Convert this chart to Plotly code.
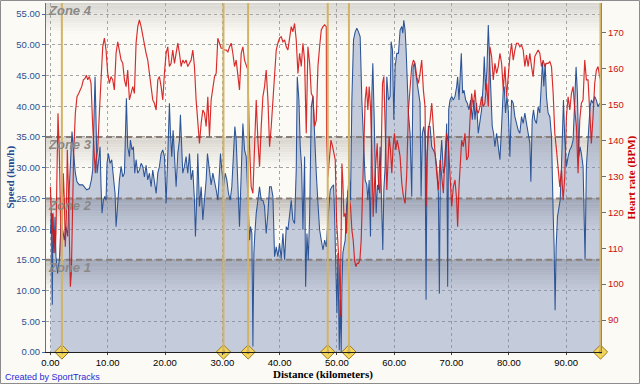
import plotly.graph_objects as go

# ---------------- data ----------------
SPEED_KM = [0.0, 0.16, 0.33, 0.45, 0.62, 0.80, 0.97, 1.26, 1.56, 1.85, 2.14, 2.43, 2.72, 3.01, 3.30, 3.59, 3.77, 4.00,
            4.35, 4.64, 5.05, 5.63, 5.92, 6.33, 6.80, 7.15, 7.38, 7.60, 7.79, 7.96, 8.14, 8.43, 8.66, 8.84, 9.01, 9.24,
            9.48, 9.71, 9.88, 10.12, 10.41, 10.70, 10.99, 11.28, 11.46, 11.75, 12.04, 12.34, 12.63, 12.92, 13.09, 13.26,
            13.49, 13.79, 13.96, 14.25, 14.48, 14.72, 14.95, 15.24, 15.53, 15.83, 16.12, 16.41, 16.70, 16.99, 17.28,
            17.57, 17.86, 18.15, 18.45, 18.74, 19.03, 19.32, 19.61, 19.90, 20.19, 20.48, 20.77, 20.95, 21.18, 21.41,
            21.65, 21.94, 22.23, 22.52, 22.69, 22.93, 23.10, 23.39, 23.68, 23.97, 24.27, 24.56, 24.85, 25.14, 25.31,
            25.55, 25.72, 26.01, 26.31, 26.60, 26.89, 27.18, 27.41, 27.65, 27.88, 28.05, 28.35, 28.64, 28.93, 29.22,
            29.45, 29.68, 29.92, 30.21, 30.50, 30.79, 31.08, 31.37, 31.66, 31.96, 32.19, 32.42, 32.71, 33.00, 33.30,
            33.59, 33.88, 34.17, 34.46, 34.75, 34.93, 35.16, 35.34, 35.51, 35.68, 35.92, 36.21, 36.50, 36.79, 37.08,
            37.37, 37.66, 37.96, 38.25, 38.54, 38.83, 39.12, 39.41, 39.70, 39.99, 40.28, 40.58, 40.87, 41.16, 41.45,
            41.74, 42.03, 42.32, 42.61, 42.90, 43.08, 43.37, 43.60, 43.84, 44.07, 44.36, 44.54, 44.77, 45.00, 45.24,
            45.53, 45.82, 46.11, 46.40, 46.69, 46.98, 47.27, 47.57, 47.86, 48.15,
            48.43, 48.84, 49.13, 49.42, 49.59, 49.83, 50.00, 50.17, 50.41, 50.58, 50.75, 50.87, 51.04, 51.22, 51.45,
            51.68, 51.92, 52.15, 52.38, 52.61, 52.90, 53.19, 53.48, 53.77, 54.06, 54.35, 54.64, 54.93, 55.22, 55.40,
            55.63, 55.86, 56.10, 56.27, 56.50, 56.68, 56.85, 57.08, 57.26, 57.55, 57.84, 58.01, 58.19, 58.42, 58.71,
            59.00, 59.29, 59.46, 59.70, 59.93, 60.16, 60.45, 60.74, 61.03, 61.32, 61.50, 61.67, 61.90, 62.08, 62.25,
            62.48, 62.77, 63.06, 63.29, 63.53, 63.76, 63.99, 64.22, 64.51, 64.69, 64.92, 65.15, 65.38, 65.56, 65.73,
            65.97, 66.26, 66.55, 66.84, 67.13, 67.42, 67.71, 67.88, 68.06, 68.29, 68.58, 68.87, 69.16, 69.33, 69.51,
            69.74, 70.03, 70.32, 70.61, 70.90, 71.07, 71.31, 71.48, 71.71, 71.94, 72.18, 72.47, 72.76, 73.05, 73.34,
            73.63, 73.92, 74.09, 74.38, 74.67, 74.96, 75.25, 75.54, 75.72, 75.95, 76.18, 76.42, 76.65, 76.88, 77.11,
            77.34, 77.58, 77.87, 78.16, 78.45, 78.74, 79.03, 79.20, 79.43, 79.67, 79.90, 80.19, 80.48, 80.77, 81.06,
            81.35, 81.64, 81.93, 82.22, 82.51, 82.80, 83.09, 83.38, 83.67, 83.85, 84.08, 84.31, 84.54, 84.83, 85.12,
            85.41, 85.70, 85.88, 86.11, 86.34, 86.57, 86.86, 87.16, 87.45, 87.74, 87.91, 88.08, 88.26, 88.49, 88.72,
            88.96, 89.19, 89.36, 89.54, 89.77, 90.06, 90.35, 90.64, 90.93, 91.22, 91.51, 91.74, 91.97, 92.21, 92.44,
            92.67, 92.96, 93.13, 93.31, 93.54, 93.72, 93.95, 94.18, 94.41, 94.70, 94.99, 95.28, 95.57, 95.86, 96.0]
SPEED_KMH = [19.3, 22.6, 7.7, 22.6, 16.1, 22.0, 15.5, 12.8, 15.0, 20.9, 19.9, 18.2, 20.4, 18.8, 26.9, 34.5, 35.9, 32.9,
             29.1, 27.7, 27.2, 27.2, 26.9, 26.4, 26.6, 28.0, 29.6, 38.0, 44.8, 37.8, 29.1, 31.3, 33.4, 26.9, 22.6, 24.7,
             25.3, 24.7, 30.7, 32.3, 30.7, 31.3, 28.0, 25.8, 20.4, 25.3, 28.0, 30.2, 28.5, 29.1, 35.6, 41.3,
             33.4, 31.8, 34.5, 32.9, 33.4, 29.1, 31.3, 29.1, 29.6, 30.7, 30.2, 28.5, 30.4, 28.0, 29.1,
             26.9, 29.6, 28.0, 25.8, 29.1, 30.2, 32.3, 32.9, 31.8, 24.2, 31.8, 40.5, 35.6, 31.8, 36.1,
             30.7, 26.9, 32.3, 34.5, 38.6, 33.4, 29.1, 30.2, 31.8, 29.1, 32.3, 28.0, 29.6, 24.7, 18.8,
             25.3, 32.3, 23.7, 26.9, 21.5, 24.7, 28.0, 32.3, 30.2, 28.0, 27.2, 29.1, 28.0, 26.4, 24.7,
             29.1, 32.3, 29.6, 26.9, 29.1, 28.0, 25.8, 24.7, 26.9, 34.0, 36.7, 34.5, 26.9, 20.4, 29.1,
             37.2, 32.9, 31.8, 25.3, 18.2, 20.4, 19.3, 0.9, 16.1, 19.3, 22.6, 24.7, 26.9, 24.7, 24.7,
             23.7, 19.3, 22.6, 26.9, 26.9, 25.3, 15.5, 17.1, 15.5, 17.7, 15.2, 19.3, 15.0, 20.4, 19.9,
             22.6, 24.7, 21.5, 20.9, 29.6, 44.8, 41.0, 33.4, 30.2, 19.9, 31.8, 10.6, 19.3, 15.0, 22.0,
             39.9, 41.6, 34.5, 29.1, 24.2, 19.9, 18.2, 16.6, 18.2, 17.1,
             21.5, 26.4, 26.9, 27.2, 22.6, 11.2, 6.3, 16.1, 0.3, 8.5, 0.0, 10.6, 16.1, 17.1, 18.2,
             23.7, 25.8, 29.1, 24.7, 41.0, 50.8, 52.1, 52.7, 52.1, 51.3, 41.0, 34.5, 28.0, 27.2, 24.7,
             28.0, 18.8, 42.1, 47.0, 38.3, 28.5, 22.6, 27.2, 26.4, 33.4, 23.7, 16.6, 26.4, 30.2, 44.8,
             41.0, 41.6, 50.5, 49.2, 37.8, 46.4, 48.6, 48.6, 52.4, 53.0, 51.9, 54.0, 52.4, 49.2, 44.3,
             38.9, 35.6, 25.3, 46.4, 47.0, 45.4, 43.7, 42.6, 40.5, 25.3, 35.6, 36.7, 35.1, 8.5, 32.3,
             36.7, 36.7, 33.4, 32.9, 32.3, 30.2, 25.8, 9.5, 31.3, 34.5, 29.1, 30.2, 37.2, 10.6, 39.4,
             41.0, 41.6, 41.0, 41.6, 43.2, 44.8, 41.0, 43.7, 48.6, 42.1, 42.6, 41.0, 40.5, 39.4, 41.0,
             37.8, 41.0, 37.8, 40.5, 35.6, 37.2, 39.4, 43.7, 48.1, 42.6, 45.9, 53.2, 47.5, 41.0, 36.7,
             35.6, 33.4, 35.6, 32.9, 31.3, 36.7, 42.6, 43.2, 38.9, 41.6, 39.4, 31.8, 41.0, 40.5, 38.3,
             37.2, 36.1, 35.6, 38.3, 37.2, 38.9, 37.2, 35.6, 34.0, 27.7, 37.8, 39.4, 37.8, 37.2, 39.9,
             38.9, 43.7, 47.2, 43.2, 47.0, 41.6, 38.9, 38.3, 35.1, 22.6, 17.1, 6.8, 17.1, 22.0, 23.7,
             24.7, 30.2, 34.5, 41.0, 34.5, 30.2, 31.8, 32.9, 33.4, 34.5, 41.0, 46.4, 42.1, 31.8, 33.4,
             32.3, 30.2, 22.6, 15.0, 30.2, 33.4, 36.7, 39.9, 41.0, 40.5, 41.6, 41.0, 39.9, 40.5, 40.0]

HR_KM = [0.0, 0.10, 0.27, 0.39, 0.51, 0.68, 0.80, 0.97, 1.15, 1.32, 1.56, 1.73, 1.90, 2.08, 2.25, 2.43, 2.60, 2.78,
         2.95, 3.13, 3.30, 3.48, 3.65, 3.83, 4.06, 4.35, 4.64, 4.93, 5.22, 5.46, 5.75, 6.04, 6.27, 6.51, 6.80, 7.09,
         7.38, 7.67, 7.84, 7.96, 8.25, 8.54, 8.84, 9.13, 9.42, 9.71, 10.00, 10.29, 10.58, 10.87, 11.16, 11.46, 11.75,
         12.04, 12.34, 12.63, 12.92, 13.21, 13.49, 13.79, 14.08, 14.37, 14.66, 14.95, 15.24, 15.53, 15.83, 16.12,
         16.41, 16.70, 16.99, 17.28, 17.57, 17.86, 18.15, 18.45, 18.74, 19.03, 19.32, 19.61, 19.90, 20.19, 20.48,
         20.77, 21.06, 21.35, 21.65, 21.94, 22.23, 22.52, 22.81, 23.10, 23.39, 23.68, 23.97, 24.27, 24.56, 24.85,
         25.14, 25.43, 25.72, 26.01, 26.31, 26.60, 26.89, 27.18, 27.47, 27.76, 28.05, 28.35, 28.64, 28.93, 29.22,
         29.51, 29.80, 30.09, 30.39, 30.68, 30.97, 31.26, 31.55, 31.84, 32.13, 32.42, 32.71, 33.00, 33.30, 33.59,
         33.88, 34.17, 34.46, 34.75, 35.04, 35.34, 35.63, 35.92, 36.21, 36.50, 36.79, 37.08, 37.37, 37.66, 37.96,
         38.25, 38.54, 38.83, 39.12, 39.41, 39.70, 39.99, 40.28, 40.58, 40.87, 41.16, 41.45, 41.74, 42.03, 42.32,
         42.61, 42.90, 43.20, 43.49, 43.78, 44.07, 44.36, 44.65, 44.94, 45.24, 45.53, 45.82, 46.11, 46.40, 46.69,
         46.98, 47.27, 47.57, 47.86, 48.15,
         48.20, 48.43, 48.66, 48.96, 49.25, 49.48, 49.71, 49.94, 50.17, 50.41, 50.58, 50.75, 50.87, 51.04, 51.22,
         51.45, 51.68, 51.92, 52.15, 52.38, 52.61, 52.84, 53.08, 53.31, 53.54, 53.77, 54.01, 54.24, 54.47, 54.70,
         54.93, 55.17, 55.40, 55.63, 55.86, 56.10, 56.33, 56.56, 56.79, 57.03, 57.26, 57.49, 57.72, 57.96, 58.19,
         58.42, 58.71, 58.88, 59.11, 59.35, 59.58, 59.81, 60.04, 60.28, 60.51, 60.74, 61.03, 61.32, 61.61, 61.90,
         62.19, 62.48, 62.77, 63.06, 63.35, 63.64, 63.93, 64.22, 64.51, 64.80, 65.09, 65.38, 65.56, 65.73, 65.97,
         66.26, 66.55, 66.84, 67.13, 67.42, 67.71, 68.00, 68.29, 68.58, 68.87, 69.16, 69.45, 69.74, 70.03, 70.32,
         70.61, 70.90, 71.07, 71.31, 71.54, 71.77, 72.06, 72.35, 72.64, 72.93, 73.22, 73.51, 73.80, 74.09, 74.38,
         74.67, 74.96, 75.25, 75.54, 75.83, 76.12, 76.42, 76.71, 77.00, 77.29, 77.58, 77.87, 78.16, 78.45, 78.74,
         79.03, 79.32, 79.61, 79.90, 80.19, 80.48, 80.77, 81.06, 81.35, 81.64, 81.93, 82.22, 82.51, 82.80, 83.09,
         83.38, 83.67, 83.96, 84.25, 84.54, 84.83, 85.12, 85.41, 85.70, 85.99, 86.28, 86.57, 86.86, 87.16, 87.45,
         87.74, 88.03, 88.32, 88.61, 88.90, 89.19, 89.48, 89.77, 90.06, 90.35, 90.64, 90.93, 91.22, 91.51, 91.80,
         92.09, 92.38, 92.67, 92.96, 93.25, 93.54, 93.83, 94.12, 94.41, 94.70, 94.99, 95.28, 95.57, 95.86, 96.0]
HR_BPM = [127.1, 121.6, 114.1, 119.7, 111.4, 115.1, 108.6, 114.1, 127.1, 147.6, 136.4, 123.4, 107.6, 119.7, 130.9,
          123.4, 110.4, 118.8, 137.4, 127.1, 106.7, 99.3, 103.0, 118.8, 136.4, 147.6, 152.2, 153.1, 154.1, 155.0,
          156.9, 157.3, 158.2, 156.9, 157.8, 155.9, 143.9, 132.7, 130.9, 134.6, 137.4, 147.6, 156.9, 166.1, 168.5,
          165.2, 158.7, 155.9, 157.8, 156.9, 154.1, 164.3, 167.5, 164.3, 162.4, 161.5, 156.9, 155.0, 159.6, 151.3,
          153.1, 155.0, 153.1, 167.1, 171.7, 173.6, 171.7, 168.9, 166.1, 164.3, 162.4, 158.7, 155.0, 151.3, 150.4,
          148.5, 156.9, 157.8, 155.0, 151.3, 158.7, 164.3, 166.1, 160.6, 161.5, 165.2, 161.5, 164.3, 167.1, 164.3,
          160.6, 162.4, 161.5, 162.4, 160.6, 161.5, 162.4, 165.2, 160.6, 151.3, 144.8, 139.2, 144.8, 148.5, 147.6,
          143.9, 152.2, 141.1, 151.3, 155.0, 157.8, 158.7, 168.5, 167.1, 165.7, 165.7, 165.2, 165.2, 164.7, 166.1,
          167.1, 164.3, 160.6, 162.4, 158.7, 154.1, 164.3, 166.1, 162.4, 160.6, 159.6, 138.3, 127.1, 125.3, 142.0,
          151.3, 140.1, 132.7, 143.9, 152.2, 155.0, 159.6, 151.3, 138.3, 143.9, 151.3, 158.7, 165.2, 167.1, 168.5,
          168.9, 167.5, 168.0, 166.1, 165.2, 168.9, 171.7, 170.3, 172.6, 168.0, 158.7, 164.3, 160.6, 167.1, 162.4,
          142.0, 166.1, 161.5, 153.1, 152.2, 143.9, 145.7, 160.6, 166.1, 170.8, 171.7, 172.2, 171.7,
          141.1, 129.9, 134.6, 140.1, 138.3, 136.4, 134.6, 117.9, 112.3, 104.9, 90.9, 114.1, 133.6, 128.5, 118.8,
          119.7, 114.1, 126.2, 123.4, 121.6, 115.1, 112.3, 106.7, 104.9, 105.8, 105.8, 106.7, 112.3, 125.3, 139.2,
          151.3, 155.0, 148.5, 155.0, 149.4, 136.4, 118.8, 128.1, 135.5, 139.2, 128.1, 125.3, 135.5, 155.9, 157.8,
          142.9, 126.2, 132.7, 141.1, 137.4, 130.9, 138.3, 142.0, 137.4, 140.1, 138.3, 135.5, 128.1, 124.4, 122.5,
          130.9, 148.5, 155.0, 160.6, 162.4, 161.5, 157.8, 155.9, 158.7, 162.4, 154.1, 149.4, 121.6, 134.6, 142.9,
          145.7, 150.4, 142.0, 136.4, 130.9, 126.2, 134.6, 129.0, 125.3, 136.4, 142.0, 139.2, 131.8, 121.6, 127.1,
          129.0, 123.4, 116.0, 127.1, 133.6, 140.1, 138.3, 142.0, 134.6, 135.5, 145.7, 153.1, 149.4, 154.1, 148.5,
          147.6, 149.4, 152.2, 149.4, 150.4, 155.9, 149.4, 166.1, 163.4, 156.9, 161.5, 158.7, 160.6, 164.3, 161.5,
          154.1, 160.6, 152.2, 158.7, 163.4, 167.1, 162.4, 165.2, 167.1, 167.1, 166.1, 166.6, 165.2, 160.6, 163.8,
          160.6, 164.3, 160.6, 157.8, 163.4, 164.3, 165.2, 164.3, 160.6, 162.4, 160.6, 161.5, 161.5, 162.0, 160.6,
          153.1, 142.0, 137.4, 132.7, 127.1, 131.8, 123.4, 130.0, 146.7, 152.2, 148.5, 153.1, 155.0, 148.5, 143.9,
          130.9, 145.7, 150.4, 151.3, 162.4, 156.9, 156.9, 149.4, 139.2, 146.7, 155.9, 159.6, 160.6, 157.8, 157.0]

LAP_KM = [2.0, 30.2, 34.5, 48.4, 52.1, 96.0]
LAP_LABELS = ["1", "2", "3", "4", "5", "6"]

ZONE_EDGES = [0, 15, 25, 35]          # lower bound of each speed zone (km/h)
ZONE_NAMES = ["Zone 1", "Zone 2", "Zone 3", "Zone 4"]

X_RANGE = [-0.77, 96.09]
Y_RANGE = [0, 56.8]
Y2_RANGE = [81.1, 178.3]

# ---------------- styling ----------------
CREAM = (251, 250, 245)
ZONE_TOP = [(192, 188, 185), (192, 188, 185), (214, 210, 204), (216, 213, 207)]
FADE = 5.0      # km/h over which each band's top shade fades to cream
NSTRIP = 12

BLUE = "#2c5496"
RED = "#d41616"

fig = go.Figure()

# gradient zone bands (background)
shapes = []
band_tops = ZONE_EDGES[1:] + [Y_RANGE[1]]
for zi, (lo, hi) in enumerate(zip(ZONE_EDGES, band_tops)):
    top = ZONE_TOP[zi]
    for i in range(NSTRIP):
        y1 = hi - i * FADE / NSTRIP
        y0 = hi - (i + 1) * FADE / NSTRIP
        t = (i + 0.5) / NSTRIP
        c = tuple(int(round(top[k] + (CREAM[k] - top[k]) * t)) for k in range(3))
        shapes.append(dict(type="rect", xref="paper", yref="y", x0=0, x1=1, y0=max(y0, lo), y1=y1,
                           fillcolor="rgb(%d,%d,%d)" % c, line=dict(width=0), layer="below"))

# speed area fill
fig.add_trace(go.Scatter(x=SPEED_KM, y=SPEED_KMH, mode="lines", fill="tozeroy",
                         fillcolor="rgba(118,138,180,0.42)", line=dict(width=0),
                         hoverinfo="skip", yaxis="y"))
# zone boundary dashed lines
for z in ZONE_EDGES[1:]:
    fig.add_trace(go.Scatter(x=X_RANGE, y=[z, z], mode="lines",
                             line=dict(color="#8a7f78", width=2, dash="6px,4px"),
                             hoverinfo="skip", yaxis="y"))
# speed line
fig.add_trace(go.Scatter(x=SPEED_KM, y=SPEED_KMH, mode="lines",
                         line=dict(color=BLUE, width=1.05), hoverinfo="skip", yaxis="y"))
# lap markers
fig.add_trace(go.Scatter(x=LAP_KM, y=[0] * len(LAP_KM), mode="markers+text", text=LAP_LABELS,
                         textposition="middle center", textfont=dict(size=6, color="#6a5010"),
                         marker=dict(symbol="diamond", size=11, color="#f2d45a",
                                     line=dict(color="#9a7a24", width=1)),
                         cliponaxis=False, hoverinfo="skip", yaxis="y"))
# heart rate
fig.add_trace(go.Scatter(x=HR_KM, y=HR_BPM, mode="lines",
                         line=dict(color=RED, width=1.15), opacity=0.9, hoverinfo="skip", yaxis="y2"))

# lap vertical lines
for d in LAP_KM:
    shapes.append(dict(type="line", xref="x", yref="paper", x0=d, x1=d, y0=0, y1=1,
                       line=dict(color="#d3b366", width=2), layer="above"))

# outer border of the picture
shapes.append(dict(type="rect", xref="paper", yref="paper",
                   x0=(0.5 - 46) / 555, x1=(639.5 - 46) / 555,
                   y0=(352 - 383.5) / 349, y1=(352 - 0.5) / 349,
                   line=dict(color="#8c8c8c", width=1), fillcolor="rgba(0,0,0,0)", layer="above"))

annotations = []
for zi, name in enumerate(ZONE_NAMES):
    annotations.append(dict(x=0, xref="paper", y=band_tops[zi], yref="y", xanchor="left", yanchor="top",
                            text="<b><i>%s</i></b>" % name, showarrow=False, xshift=0, yshift=2,
                            font=dict(family="Liberation Sans, Arial", size=13, color="#8b8986")))
annotations += [
    dict(x=(10 - 46) / 555, y=0.5, xref="paper", yref="paper", xanchor="center", yanchor="middle",
         text="<b>Speed (km/h)</b>", textangle=-90,
         showarrow=False, font=dict(family="Liberation Serif, Times New Roman", size=11, color="#23498f")),
    dict(x=(631 - 46) / 555, y=0.5, xref="paper", yref="paper", xanchor="center", yanchor="middle",
         text="<b>Heart rate (BPM)</b>", textangle=-90,
         showarrow=False, font=dict(family="Liberation Serif, Times New Roman", size=11, color="#cc0000")),
    dict(x=(323 - 46) / 555, y=(352 - 374) / 349, xref="paper", yref="paper", xanchor="center", yanchor="middle",
         text="<b>Distance (kilometers)</b>",
         showarrow=False, font=dict(family="Liberation Serif, Times New Roman", size=11, color="#000000")),
    dict(x=(3 - 46) / 555, y=(352 - 377) / 349, xref="paper", yref="paper", xanchor="left", yanchor="middle",
         text="Created by SportTracks", showarrow=False,
         font=dict(family="Liberation Sans, Arial", size=9, color="#2a2ad8")),
]

tickfont = dict(family="Liberation Sans, Arial", size=9.5)
fig.update_layout(
    width=640, height=384, autosize=False,
    margin=dict(l=46, r=39, t=3, b=32),
    paper_bgcolor="#fbfaf5", plot_bgcolor="rgb(%d,%d,%d)" % CREAM,
    showlegend=False, hovermode=False,
    shapes=shapes, annotations=annotations,
    xaxis=dict(range=X_RANGE, dtick=10, tick0=0, tickformat=".2f", showgrid=True,
               gridcolor="#a4a4a4", griddash="dot", gridwidth=1, zeroline=False,
               showline=True, linecolor="#202020", linewidth=1, ticks="outside", ticklen=2,
               tickcolor="#404040", tickfont=dict(color="#000000", **tickfont)),
    yaxis=dict(range=Y_RANGE, dtick=5, tick0=0, tickformat=".2f", showgrid=True,
               gridcolor="#a4a4a4", griddash="dot", gridwidth=1, zeroline=False,
               showline=True, linecolor="#707070", linewidth=1, ticks="outside", ticklen=3,
               tickcolor="#4a6aa0", tickfont=dict(color="#2f4f8f", **tickfont)),
    yaxis2=dict(range=Y2_RANGE, dtick=10, tick0=90, tickformat="d", overlaying="y", side="right",
                showgrid=False, zeroline=False, showline=True, linecolor="#8a8a70", linewidth=1,
                ticks="outside", ticklen=4, tickcolor="#707070", tickfont=dict(color="#cc1010", **tickfont)),
)

fig.write_html("out.html", config={"displayModeBar": False},
               post_script="document.body.style.margin='0';")
